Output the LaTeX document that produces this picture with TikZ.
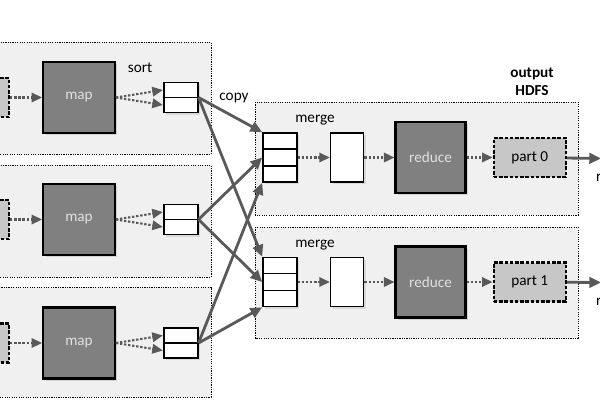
\documentclass[tikz,border=0pt]{standalone}
\usepackage{fontspec}
\setmainfont{Carlito}
\usepackage{tikz}
\usetikzlibrary{positioning,arrows.meta,calc,shadows}

\begin{document}
\begin{tikzpicture}[
    x=0.03cm, y=-0.03cm,
    font=\fontsize{13}{14}\selectfont,
    group/.style={
        draw,
        dash pattern=on 1pt off 1pt,
        line width=0.8pt,
        fill=black!6
    },
    task/.style={
        draw,
        line width=1.8pt,
        fill=black!50,
        text=white!88!black,
        minimum width=2.15cm,
        minimum height=2.13cm,
        drop shadow={opacity=0.25, shadow xshift=2pt, shadow yshift=-2pt}
    },
    split/.style={
        draw,
        dash pattern=on 3pt off 1.5pt,
        line width=2pt,
        fill=black!22,
        minimum height=1.17cm
    },
    buf/.style={
        draw,
        line width=1.4pt,
        fill=white,
        minimum width=1.02cm,
        drop shadow={opacity=0.2, shadow xshift=2pt, shadow yshift=-2pt}
    },
    flow/.style={-{Triangle[length=9pt,width=8pt]}, dash pattern=on 2pt off 1.5pt, line width=1.8pt, draw=black!65},
    copyline/.style={-{Triangle[length=10pt,width=9pt]}, line width=2.4pt, draw=black!65}
]

\useasboundingbox (0,0) rectangle (600,400);
\clip (0,0) rectangle (600,400);

% map side
\draw[group] (-5,42) rectangle (211,154);
\draw[group] (-5,165) rectangle (211,277);
\draw[group] (-5,287) rectangle (211,397);

\node[task] (map1) at (79,97.5) {map};
\node[task] (map2) at (79,219.5) {map};
\node[task] (map3) at (79,343) {map};

\node[split, minimum width=1.2cm, left=0.96cm of map1] (in1) {};
\node[split, minimum width=1.2cm, left=0.96cm of map2] (in2) {};
\node[split, minimum width=1.2cm, left=0.96cm of map3] (in3) {};

\node[buf, minimum height=0.9cm, right=1.41cm of map1] (sort1) {};
\node[buf, minimum height=0.9cm, right=1.41cm of map2] (sort2) {};
\node[buf, minimum height=0.9cm, right=1.41cm of map3] (sort3) {};
\draw[line width=1.4pt] (sort1.west) -- (sort1.east);
\draw[line width=1.4pt] (sort2.west) -- (sort2.east);
\draw[line width=1.4pt] (sort3.west) -- (sort3.east);

\node (sortlabel) at (140,68) {sort};
\node (copylabel) at (234,98) {copy};

% reduce side
\draw[group] (255,102) rectangle (578,215);
\draw[group] (255,227) rectangle (578,338);

\node[buf, minimum height=1.47cm] (merge0) at (280,157.5) {};
\node[buf, minimum height=1.47cm] (merge1) at (280,282) {};
\foreach \m in {merge0,merge1} {
    \draw[line width=1.4pt] ($(\m.north west)!1/3!(\m.south west)$) -- ($(\m.north east)!1/3!(\m.south east)$);
    \draw[line width=1.4pt] ($(\m.north west)!2/3!(\m.south west)$) -- ($(\m.north east)!2/3!(\m.south east)$);
}
\node (mergelabel0) at (315,120) {merge};
\node (mergelabel1) at (315,245) {merge};

\node[buf, minimum width=0.99cm, minimum height=1.47cm, right=0.96cm of merge0] (merged0) {};
\node[buf, minimum width=0.99cm, minimum height=1.47cm, right=0.96cm of merge1] (merged1) {};

\node[task, minimum width=2.1cm, right=0.9cm of merged0] (reduce0) {reduce};
\node[task, minimum width=2.1cm, right=0.9cm of merged1] (reduce1) {reduce};

\node[split, minimum width=2.16cm, right=0.78cm of reduce0] (part0) {part 0};
\node[split, minimum width=2.16cm, right=0.78cm of reduce1] (part1) {part 1};

\node[font=\fontsize{13}{15}\selectfont\bfseries, align=center] (hdfs) at (532,82) {output\\HDFS};

\coordinate (out0) at (601,158.5);
\coordinate (out1) at (601,282.5);
\node[anchor=west] (rep0) at (592,178) {r};
\node[anchor=west] (rep1) at (592,302) {r};

% dotted flow
\draw[flow] (in1) -- (map1);
\draw[flow] (in2) -- (map2);
\draw[flow] (in3) -- (map3);
\draw[flow] (map1.east) -- ($(sort1.west)+(0,-7.5)$);
\draw[flow] (map1.east) -- ($(sort1.west)+(0,7.5)$);
\draw[flow] (map2.east) -- ($(sort2.west)+(0,-7.5)$);
\draw[flow] (map2.east) -- ($(sort2.west)+(0,7.5)$);
\draw[flow] (map3.east) -- ($(sort3.west)+(0,-7.5)$);
\draw[flow] (map3.east) -- ($(sort3.west)+(0,7.5)$);
\draw[flow] (merge0) -- (merged0);
\draw[flow] (merge1) -- (merged1);
\draw[flow] (merged0) -- (reduce0);
\draw[flow] (merged1) -- (reduce1);
\draw[flow] (reduce0) -- (part0);
\draw[flow] (reduce1) -- (part1);

% copy
\draw[copyline] (sort1.east) -- (merge0.north west);
\draw[copyline] (sort2.east) -- (merge0.west);
\draw[copyline] (sort3.east) -- (merge0.south west);
\draw[copyline] (sort1.east) -- (merge1.north west);
\draw[copyline] (sort2.east) -- (merge1.west);
\draw[copyline] (sort3.east) -- (merge1.south west);

\draw[copyline] (part0) -- (out0);
\draw[copyline] (part1) -- (out1);

\end{tikzpicture}
\end{document}
